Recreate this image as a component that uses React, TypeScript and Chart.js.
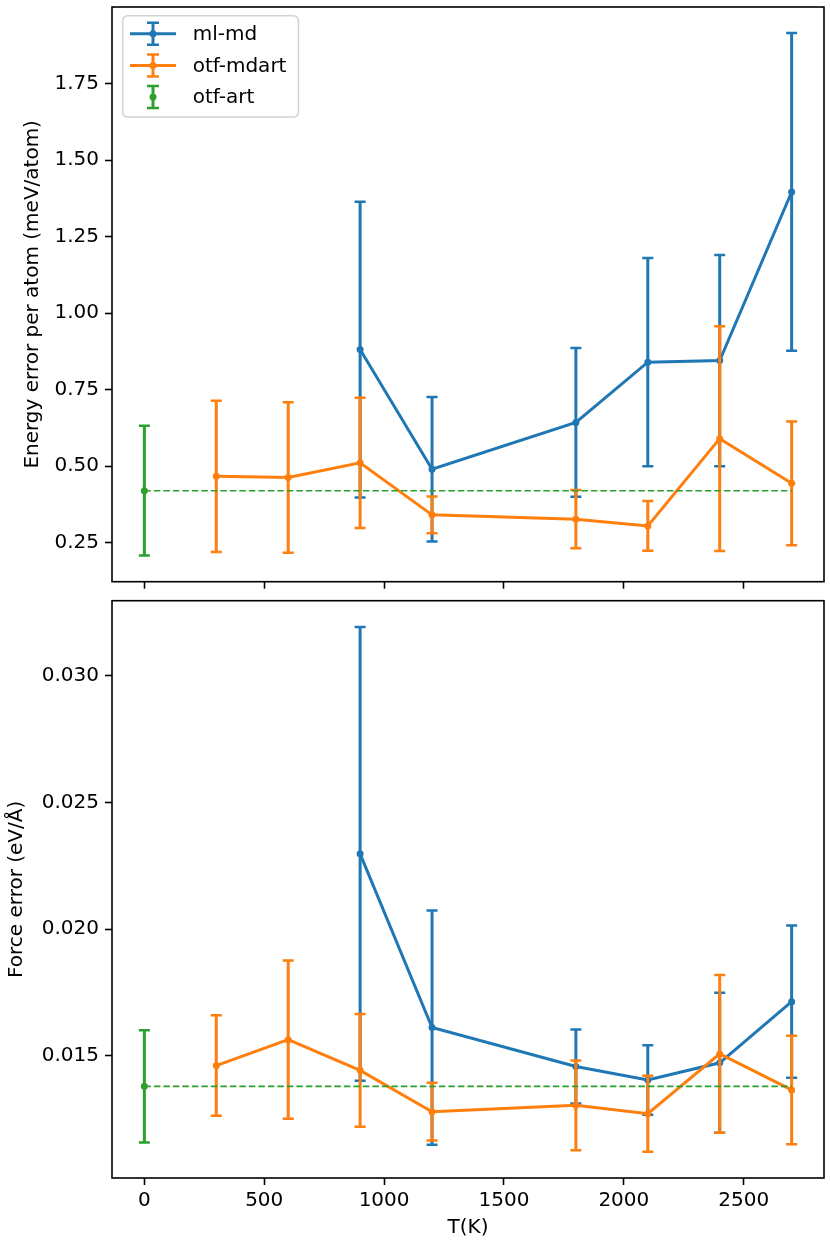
import { useEffect, useRef } from "react"
import { Chart, registerables } from "chart.js"

Chart.register(...registerables)

// temperatures (K) of each series
const mlmdT = [900, 1200, 1800, 2100, 2400, 2700]
const mdartT = [300, 600, 900, 1200, 1800, 2100, 2400, 2700]
const artT = [0]

// energy error per atom (meV/atom) and its spread
const mlmdEnergy = [0.881, 0.49, 0.643, 0.84, 0.845, 1.396]
const mlmdEnergyErr = [0.483, 0.236, 0.243, 0.34, 0.345, 0.519]
const mdartEnergy = [0.467, 0.463, 0.511, 0.341, 0.327, 0.305, 0.59, 0.444]
const mdartEnergyErr = [0.247, 0.246, 0.213, 0.06, 0.095, 0.081, 0.367, 0.202]
const artEnergy = [0.42]
const artEnergyErr = [0.212]

// force error (eV/Å) and its spread
const mlmdForce = [0.02297, 0.01612, 0.01458, 0.01405, 0.01473, 0.01714]
const mlmdForceErr = [0.00895, 0.00462, 0.00146, 0.00137, 0.00276, 0.003]
const mdartForce = [0.01462, 0.01564, 0.01443, 0.0128, 0.01305, 0.01272, 0.01508, 0.01366]
const mdartForceErr = [0.00198, 0.00312, 0.00222, 0.00114, 0.00177, 0.0015, 0.00311, 0.00214]
const artForce = [0.0138]
const artForceErr = [0.00221]

// tick labels
const xTicks = [0, 500, 1000, 1500, 2000, 2500]
const energyTicks = [0.25, 0.5, 0.75, 1.0, 1.25, 1.5, 1.75]
const forceTicks = [0.015, 0.02, 0.025, 0.03]

const labels = ["ml-md", "otf-mdart", "otf-art"]
const BLUE = "#1f77b4"
const ORANGE = "#ff7f0e"
const GREEN = "#2ca02c"
const FONT = "DejaVu Sans"

interface Series {
  t: number[]
  v: number[]
  e: number[]
}

// matplotlib style 5% margins
function padded(lo: number, hi: number): [number, number] {
  const pad = (hi - lo) * 0.05
  return [lo - pad, hi + pad]
}

function yRange(series: Series[]): [number, number] {
  let lo = Infinity
  let hi = -Infinity
  series.forEach((s) =>
    s.v.forEach((v, i) => {
      lo = Math.min(lo, v - s.e[i])
      hi = Math.max(hi, v + s.e[i])
    })
  )
  return padded(lo, hi)
}

const allT = [...mlmdT, ...mdartT, ...artT]
const xRange = padded(Math.min(...allT), Math.max(...allT))

const errorBarPlugin = {
  id: "errorBars",
  afterDatasetDraw(chart: any, args: any) {
    const ds = chart.data.datasets[args.index]
    if (!ds.errors) return
    const y = chart.scales.y
    const ctx = chart.ctx
    const cap = 5.5
    ctx.save()
    ctx.strokeStyle = ds.borderColor
    args.meta.data.forEach((pt: any, i: number) => {
      const raw = ds.data[i]
      const top = y.getPixelForValue(raw.y + ds.errors[i])
      const bot = y.getPixelForValue(raw.y - ds.errors[i])
      ctx.lineWidth = 3
      ctx.beginPath()
      ctx.moveTo(pt.x, top)
      ctx.lineTo(pt.x, bot)
      ctx.stroke()
      ctx.lineWidth = 2.5
      ctx.beginPath()
      ctx.moveTo(pt.x - cap, top)
      ctx.lineTo(pt.x + cap, top)
      ctx.moveTo(pt.x - cap, bot)
      ctx.lineTo(pt.x + cap, bot)
      ctx.stroke()
    })
    ctx.restore()
  },
  afterDraw(chart: any) {
    const { ctx, chartArea: a } = chart
    ctx.save()
    ctx.strokeStyle = "#000"
    ctx.lineWidth = 1.6
    ctx.strokeRect(a.left, a.top, a.right - a.left, a.bottom - a.top)

    if (chart.options.plugins.errorBars?.legend) {
      const items = chart.data.datasets.filter((d: any) => d.errors)
      ctx.font = `20px "${FONT}"`
      const textW = Math.max(...items.map((d: any) => ctx.measureText(d.label).width))
      const bx = a.left + 10.7
      const by = a.top + 8.7
      const bw = 70 + textW + 12
      const rowH = 31.7
      const bh = 18 + rowH * (items.length - 1) + 20
      ctx.beginPath()
      ctx.roundRect(bx, by, bw, bh, 5)
      ctx.fillStyle = "rgba(255,255,255,0.8)"
      ctx.fill()
      ctx.strokeStyle = "#d3d3d3"
      ctx.lineWidth = 1.5
      ctx.stroke()
      items.forEach((d: any, i: number) => {
        const cy = by + 18 + i * rowH
        const hx0 = bx + 7.3
        const hx1 = bx + 53.3
        const cx = (hx0 + hx1) / 2
        ctx.strokeStyle = d.borderColor
        ctx.fillStyle = d.borderColor
        if (d.showLine !== false) {
          ctx.lineWidth = 3
          ctx.beginPath()
          ctx.moveTo(hx0, cy)
          ctx.lineTo(hx1, cy)
          ctx.stroke()
        }
        ctx.lineWidth = 3
        ctx.beginPath()
        ctx.moveTo(cx, cy - 11)
        ctx.lineTo(cx, cy + 11)
        ctx.stroke()
        ctx.lineWidth = 2.5
        ctx.beginPath()
        ctx.moveTo(cx - 6, cy - 11)
        ctx.lineTo(cx + 6, cy - 11)
        ctx.moveTo(cx - 6, cy + 11)
        ctx.lineTo(cx + 6, cy + 11)
        ctx.stroke()
        ctx.beginPath()
        ctx.arc(cx, cy, 3.5, 0, Math.PI * 2)
        ctx.fill()
        ctx.fillStyle = "#000"
        ctx.textBaseline = "middle"
        ctx.textAlign = "left"
        ctx.fillText(d.label, bx + 70, cy + 1)
      })
    }
    ctx.restore()
  },
}

interface PanelProps {
  series: Series[]
  yTicks: number[]
  decimals: number
  yTitle: string
  yTitlePad: number
  height: number
  padTop: number
  xAxisHeight: number
  showXLabels: boolean
  legend: boolean
}

function Panel(p: PanelProps) {
  const chartRef = useRef<HTMLCanvasElement | null>(null)
  const chartInstance = useRef<Chart | null>(null)

  useEffect(() => {
    if (!chartRef.current) return
    if (chartInstance.current) chartInstance.current.destroy()
    const ctx = chartRef.current.getContext("2d")
    if (!ctx) return

    const colors = [BLUE, ORANGE, GREEN]
    const datasets: any[] = p.series.map((s, k) => ({
      label: labels[k],
      data: s.t.map((t, i) => ({ x: t, y: s.v[i] })),
      errors: s.e,
      borderColor: colors[k],
      backgroundColor: colors[k],
      borderWidth: 3,
      pointRadius: 3.5,
      pointBorderWidth: 0,
      pointBackgroundColor: colors[k],
      showLine: k < 2,
      order: 3 - k,
    }))
    // dashed reference level of otf-art across the temperature range
    const art = p.series[2]
    datasets.push({
      label: "reference",
      data: [
        { x: artT[0], y: art.v[0] },
        { x: Math.max(...allT), y: art.v[0] },
      ],
      borderColor: GREEN,
      borderWidth: 1.6,
      borderDash: [6.5, 3],
      pointRadius: 0,
      order: 0,
    })

    const [yMin, yMax] = yRange(p.series)

    chartInstance.current = new Chart(ctx, {
      type: "line",
      data: { datasets },
      options: {
        animation: false,
        responsive: false,
        events: [],
        layout: { padding: { top: p.padTop, right: 6, left: 0, bottom: 0 } },
        plugins: {
          legend: { display: false },
          tooltip: { enabled: false },
          errorBars: { legend: p.legend },
        } as any,
        scales: {
          x: {
            type: "linear",
            min: xRange[0],
            max: xRange[1],
            afterBuildTicks: (s: any) => {
              s.ticks = xTicks.map((v) => ({ value: v }))
            },
            afterFit: (s: any) => {
              s.height = p.xAxisHeight
              s.paddingLeft = 0
              s.paddingRight = 0
            },
            border: { display: false },
            grid: {
              drawOnChartArea: false,
              drawTicks: true,
              tickLength: 7,
              tickWidth: 1.6,
              tickColor: "#000",
            },
            ticks: {
              display: p.showXLabels,
              color: "#000",
              padding: 4,
              maxRotation: 0,
              font: { family: FONT, size: 20 },
              callback: (v: any) => String(v),
            },
            title: {
              display: p.showXLabels,
              text: "T(K)",
              color: "#000",
              padding: { top: 0, bottom: 5 },
              font: { family: FONT, size: 20 },
            },
          },
          y: {
            type: "linear",
            min: yMin,
            max: yMax,
            afterBuildTicks: (s: any) => {
              s.ticks = p.yTicks.map((v) => ({ value: v }))
            },
            afterFit: (s: any) => {
              s.width = 112
              s.paddingTop = 0
              s.paddingBottom = 0
            },
            border: { display: false },
            grid: {
              drawOnChartArea: false,
              drawTicks: true,
              tickLength: 7,
              tickWidth: 1.6,
              tickColor: "#000",
            },
            ticks: {
              color: "#000",
              padding: 6,
              font: { family: FONT, size: 20 },
              callback: (v: any) => Number(v).toFixed(p.decimals),
            },
            title: {
              display: true,
              text: p.yTitle,
              color: "#000",
              padding: { top: p.yTitlePad, bottom: 0 },
              font: { family: FONT, size: 20 },
            },
          },
        },
      },
      plugins: [errorBarPlugin],
    })

    return () => {
      if (chartInstance.current) {
        chartInstance.current.destroy()
        chartInstance.current = null
      }
    }
  }, [])

  return <canvas ref={chartRef} width={830} height={p.height} style={{ display: "block" }} />
}

export default function App() {
  const energy: Series[] = [
    { t: mlmdT, v: mlmdEnergy, e: mlmdEnergyErr },
    { t: mdartT, v: mdartEnergy, e: mdartEnergyErr },
    { t: artT, v: artEnergy, e: artEnergyErr },
  ]
  const force: Series[] = [
    { t: mlmdT, v: mlmdForce, e: mlmdForceErr },
    { t: mdartT, v: mdartForce, e: mdartForceErr },
    { t: artT, v: artForce, e: artForceErr },
  ]
  return (
    <div style={{ position: "absolute", left: 0, top: 0, width: 830, height: 1245, background: "#fff" }}>
      <Panel
        series={energy}
        yTicks={energyTicks}
        decimals={2}
        yTitle="Energy error per atom (meV/atom)"
        yTitlePad={20.5}
        height={591}
        padTop={7}
        xAxisHeight={9.3}
        showXLabels={false}
        legend={true}
      />
      <Panel
        series={force}
        yTicks={forceTicks}
        decimals={3}
        yTitle="Force error (eV/Å)"
        yTitlePad={5}
        height={654}
        padTop={9.7}
        xAxisHeight={67}
        showXLabels={true}
        legend={false}
      />
    </div>
  )
}
